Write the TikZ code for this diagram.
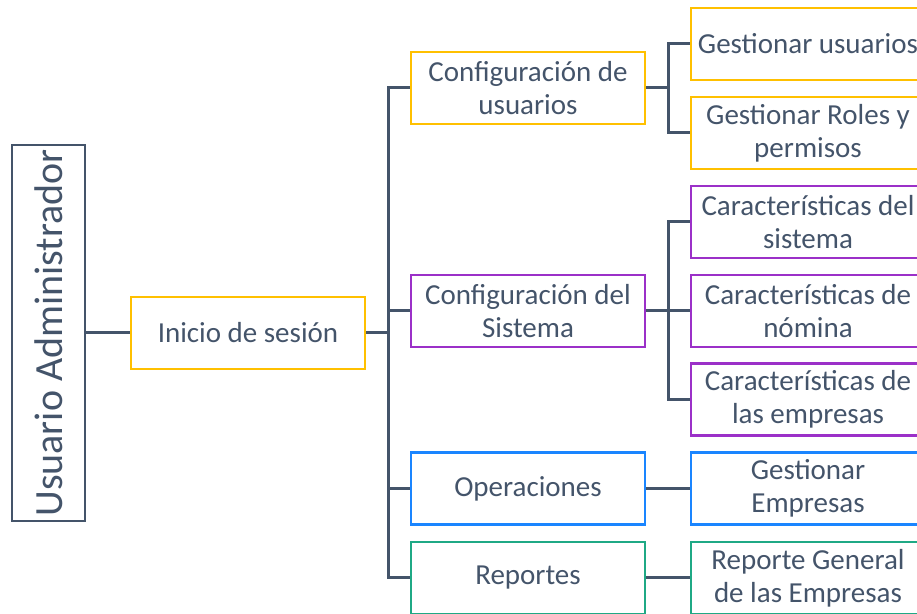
\documentclass[tikz,border=0pt]{standalone}
\usepackage{fontspec}
\setmainfont{Carlito}
\usepackage{tikz}
\usetikzlibrary{positioning}

\definecolor{ink}{HTML}{44546A}
\definecolor{yel}{HTML}{FFC000}
\definecolor{pur}{HTML}{9B30C8}
\definecolor{blu}{HTML}{1A85FF}
\definecolor{grn}{HTML}{1FA985}

\begin{document}
\begin{tikzpicture}[
    x=0.5pt, y=-0.5pt,
    box/.style={rectangle, draw, line width=1.4pt, minimum width=117pt, minimum height=36pt,
      align=center, text=ink, font=\fontsize{14.5pt}{16.5pt}\selectfont, inner sep=2pt},
    rootbox/.style={rectangle, draw=ink, line width=1.4pt, rotate=90, minimum width=188pt,
      minimum height=36.5pt, text=ink, font=\fontsize{20pt}{24pt}\selectfont, inner sep=2pt},
    link/.style={draw=ink, line width=1.5pt}
  ]
    \useasboundingbox (0,0) rectangle (917,614);

    % raiz y primer nivel
    \node[rootbox] (admin) at (48.5,333) {Usuario Administrador};
    \node[box, draw=yel] (inicio) at (248,333) {Inicio de sesión};

    % menus
    \node[box, draw=yel] (cfgusr) at (528,88) {Configuración de\\usuarios};
    \node[box, draw=pur] (cfgsis) at (528,311) {Configuración del\\Sistema};
    \node[box, draw=blu] (oper) at (528,488.5) {Operaciones};
    \node[box, draw=grn] (rep) at (528,578) {Reportes};

    % opciones
    \node[box, draw=yel] (gestusr) at (808,44) {Gestionar usuarios};
    \node[box, draw=yel] (roles) at (808,133) {Gestionar Roles y\\permisos};
    \node[box, draw=pur] (carsis) at (808,222) {Características del\\sistema};
    \node[box, draw=pur] (carnom) at (808,311) {Características de\\nómina};
    \node[box, draw=pur] (caremp) at (808,399.5) {Características de\\las empresas};
    \node[box, draw=blu] (gestemp) at (808,488.5) {Gestionar\\Empresas};
    \node[box, draw=grn] (repgen) at (808,578) {Reporte General\\de las Empresas};

    \coordinate (trunk) at (388,333);
    \coordinate (usrfork) at (668,88);
    \coordinate (sisfork) at (668,311);

    \draw[link] (admin) -- (inicio);
    \draw[link] (inicio) -- (trunk);
    \foreach \n in {cfgusr, cfgsis, oper, rep}
      \draw[link] (trunk) |- (\n.west);

    \draw[link] (cfgusr) -- (usrfork);
    \foreach \n in {gestusr, roles}
      \draw[link] (usrfork) |- (\n.west);

    \draw[link] (cfgsis) -- (sisfork);
    \foreach \n in {carsis, carnom, caremp}
      \draw[link] (sisfork) |- (\n.west);

    \draw[link] (oper) -- (gestemp);
    \draw[link] (rep) -- (repgen);
\end{tikzpicture}
\end{document}
